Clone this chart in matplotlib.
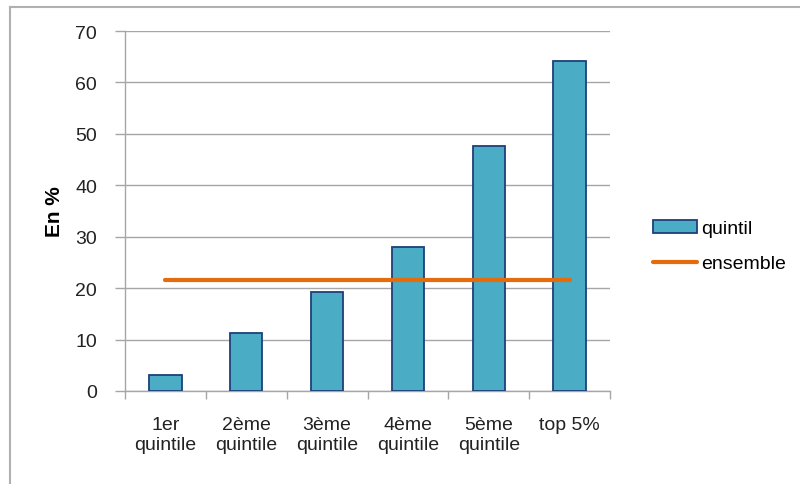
import matplotlib
matplotlib.use("Agg")
import matplotlib.pyplot as plt
from matplotlib.lines import Line2D
import numpy as np

plt.rcParams['font.family'] = ['Liberation Sans', 'DejaVu Sans']

categories = ["1er\nquintile", "2ème\nquintile", "3ème\nquintile", "4ème\nquintile", "5ème\nquintile", "top 5%"]
quintil = [3.1, 11.2, 19.3, 28.0, 47.7, 64.1]
ensemble = [21.6, 21.6, 21.6, 21.6, 21.6, 21.6]
yticks = [0, 10, 20, 30, 40, 50, 60, 70]

grid_col = '#A6A6A6'
txt_col = '#222222'
fs = 14

fig = plt.figure(figsize=(8, 4.85), dpi=100)
ax = fig.add_axes([125 / 800, 1 - 392 / 485, 485 / 800, 360 / 485])

x = np.arange(len(categories))
bars = ax.bar(x, quintil, width=0.4, color='#4BACC6', edgecolor='#1F3F7A', linewidth=1.3,
              label='quintil', zorder=3)
line, = ax.plot(x, ensemble, color='#E46C0A', linewidth=3, solid_capstyle='round',
                label='ensemble', zorder=4)

ax.set_xlim(-0.5, len(categories) - 0.5)
ax.set_ylim(0, 70)
ax.set_yticks(yticks)
ax.yaxis.grid(True, color=grid_col, linewidth=1, zorder=0)
ax.set_axisbelow(True)

ax.set_xticks(x)
ax.set_xticklabels(categories, fontsize=fs, color=txt_col, linespacing=1.2)
ax.set_xticks(np.arange(-0.5, len(categories)), minor=True)
ax.tick_params(axis='x', which='major', length=0, pad=18)
ax.tick_params(axis='x', which='minor', length=6, color=grid_col, width=1)
ax.tick_params(axis='y', length=7, color=grid_col, width=1, labelsize=fs,
               labelcolor=txt_col, pad=13)

for s in ['top', 'right']:
    ax.spines[s].set_visible(False)
for s in ['left', 'bottom']:
    ax.spines[s].set_color(grid_col)
    ax.spines[s].set_linewidth(1)

ax.set_ylabel("En %", fontsize=15, fontweight='bold', labelpad=8)

fig.legend(handles=[bars, line], labels=['quintil', 'ensemble'],
           loc='center left', bbox_to_anchor=(643 / 800, 1 - 247 / 485), frameon=False,
           fontsize=fs, handlelength=2.3, handletextpad=0.2, labelspacing=0.9, borderpad=0)

# outer chart frame (cropped: only top and left visible)
fig.add_artist(Line2D([10 / 800, 10 / 800], [0, 1 - 8 / 485], transform=fig.transFigure,
                      color='#B0B0B0', linewidth=1.5))
fig.add_artist(Line2D([10 / 800, 1], [1 - 8 / 485, 1 - 8 / 485], transform=fig.transFigure,
                      color='#B0B0B0', linewidth=1.5))

fig.savefig("out.png", dpi=100)
